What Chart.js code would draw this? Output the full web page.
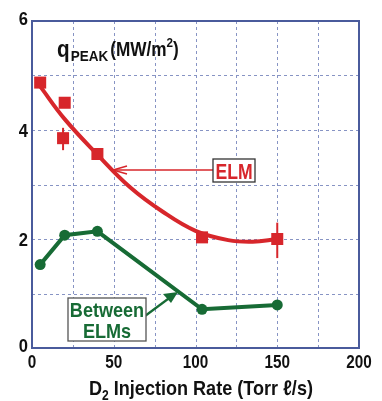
<!DOCTYPE html>
<html>
<head>
<meta charset="utf-8">
<script src="https://cdn.jsdelivr.net/npm/chart.js@4/dist/chart.umd.min.js"></script>
<style>
  html, body { margin: 0; padding: 0; background: #fff; }
  #wrap { position: relative; width: 382px; height: 401px; }
</style>
</head>
<body>
<div id="wrap"><canvas id="chart-area" width="382" height="401"></canvas></div>
<script>
// data
const elmX = [5, 20, 19, 40, 104, 150];
const elmY = [4.87, 4.5, 3.85, 3.56, 2.03, 2.0];
const elmErrLo = [null, null, 3.63, null, null, 1.65];
const elmErrHi = [null, null, 4.04, null, null, 2.3];

const fitX = [5, 20, 40, 60, 80, 100, 120, 135, 150];
const fitY = [4.8, 4.2, 3.55, 2.95, 2.5, 2.15, 1.98, 1.95, 2.0];

const betweenX = [5, 20, 40, 104, 150];
const betweenY = [1.53, 2.07, 2.14, 0.71, 0.79];

const xTicks = [0, 50, 100, 150, 200];
const yTicks = [0, 2, 4, 6];

const RED = '#d7262b';
const GREEN = '#176b35';
const GRID = '#8794c4';
const FRAME = '#4a5b9c';
const FONT = '"Liberation Sans", Arial, sans-serif';

function pts(xs, ys) { return xs.map((x, i) => ({x: x, y: ys[i]})); }

// bold text squeezed horizontally to look like a condensed face
function txt(ctx, s, x, y, size, align, color, sx) {
  sx = sx || 0.86;
  ctx.save();
  ctx.font = 'bold ' + size + 'px ' + FONT;
  ctx.fillStyle = color || '#111';
  ctx.textBaseline = 'alphabetic';
  const w = ctx.measureText(s).width * sx;
  let left = x;
  if (align === 'center') left = x - w / 2;
  else if (align === 'right') left = x - w;
  ctx.translate(left, y);
  ctx.scale(sx, 1);
  ctx.fillText(s, 0, 0);
  ctx.restore();
  return w;
}
function txtW(ctx, s, size, sx) {
  ctx.save();
  ctx.font = 'bold ' + size + 'px ' + FONT;
  const w = ctx.measureText(s).width * (sx || 0.86);
  ctx.restore();
  return w;
}

// dashed grid from the scale ticks
const grid = {
  id: 'grid',
  beforeDatasetsDraw(c) {
    const ctx = c.ctx, a = c.chartArea;
    ctx.save();
    ctx.strokeStyle = GRID;
    ctx.lineWidth = 1;
    ctx.setLineDash([3, 3]);
    c.scales.x.ticks.forEach(t => {
      const px = Math.round(c.scales.x.getPixelForValue(t.value)) + 0.5;
      ctx.beginPath(); ctx.moveTo(px, a.top); ctx.lineTo(px, a.bottom); ctx.stroke();
    });
    c.scales.y.ticks.forEach(t => {
      const py = Math.round(c.scales.y.getPixelForValue(t.value)) + 0.5;
      ctx.beginPath(); ctx.moveTo(a.left, py); ctx.lineTo(a.right, py); ctx.stroke();
    });
    ctx.restore();
  }
};

const extras = {
  id: 'extras',
  afterDatasetsDraw(c) {
    const ctx = c.ctx, a = c.chartArea;
    const xs = c.scales.x, ys = c.scales.y;
    ctx.save();
    ctx.strokeStyle = FRAME;
    ctx.lineWidth = 2;
    ctx.strokeRect(a.left, a.top, a.right - a.left, a.bottom - a.top);

    // tick labels
    xTicks.forEach(v => txt(ctx, String(v), xs.getPixelForValue(v), a.bottom + 20, 18, 'center', '#111', 0.85));
    yTicks.forEach(v => {
      const py = ys.getPixelForValue(v) + 6.5 - (v === 6 ? 3 : 0) - (v === 0 ? 3 : 0);
      txt(ctx, String(v), a.left - 4, py, 18, 'right', '#111', 0.92);
    });

    // error bars
    ctx.strokeStyle = RED;
    ctx.lineWidth = 2;
    elmX.forEach((x, i) => {
      if (elmErrLo[i] == null) return;
      const px = xs.getPixelForValue(x);
      ctx.beginPath();
      ctx.moveTo(px, ys.getPixelForValue(elmErrLo[i]));
      ctx.lineTo(px, ys.getPixelForValue(elmErrHi[i]));
      ctx.stroke();
    });

    // q_PEAK label
    let tx = 57, ty = 57;
    tx += txt(ctx, 'q', tx, ty, 23, 'left', '#111', 0.9) + 1;
    tx += txt(ctx, 'PEAK', tx, ty + 4, 15, 'left', '#111', 0.9) + 2;
    tx += txt(ctx, '(MW/m', tx, ty - 1, 20, 'left', '#111', 0.86);
    tx += txt(ctx, '2', tx, ty - 10, 13, 'left', '#111', 0.9);
    txt(ctx, ')', tx, ty - 1, 20, 'left', '#111', 0.86);

    // ELM box + arrow
    ctx.strokeStyle = RED;
    ctx.lineWidth = 1.5;
    const ay = 170;
    ctx.beginPath();
    ctx.moveTo(213, ay); ctx.lineTo(114, ay); ctx.stroke();
    ctx.beginPath();
    ctx.moveTo(127, ay - 4); ctx.lineTo(113, ay); ctx.lineTo(127, ay + 4);
    ctx.stroke();
    ctx.fillStyle = '#fff';
    ctx.fillRect(213, 159, 42, 23);
    ctx.strokeStyle = '#333';
    ctx.lineWidth = 1.3;
    ctx.strokeRect(213, 159, 42, 23);
    txt(ctx, 'ELM', 234, 178.5, 22, 'center', RED, 0.8);

    // Between ELMs box + arrow
    ctx.strokeStyle = GREEN;
    ctx.fillStyle = GREEN;
    ctx.lineWidth = 2.2;
    ctx.beginPath();
    ctx.moveTo(145, 316); ctx.lineTo(172, 296); ctx.stroke();
    ctx.beginPath();
    ctx.moveTo(178, 292); ctx.lineTo(163, 294); ctx.lineTo(171, 303); ctx.closePath();
    ctx.fill();
    ctx.fillStyle = '#fff';
    ctx.fillRect(68, 298, 78, 43);
    ctx.strokeStyle = '#555';
    ctx.lineWidth = 1.3;
    ctx.strokeRect(68, 298, 78, 43);
    txt(ctx, 'Between', 107, 317, 21, 'center', GREEN, 0.86);
    txt(ctx, 'ELMs', 107, 338, 21, 'center', GREEN, 0.86);

    // x axis title with subscript
    const t1 = 'D', t2 = '2', t3 = ' Injection Rate (Torr \u2113/s)';
    const w1 = txtW(ctx, t1, 21, 0.86), w2 = txtW(ctx, t2, 14, 0.86), w3 = txtW(ctx, t3, 21, 0.86);
    const sx = 201 - (w1 + w2 + w3) / 2, sy = 395;
    txt(ctx, t1, sx, sy, 21, 'left', '#111', 0.86);
    txt(ctx, t2, sx + w1, sy + 5, 14, 'left', '#111', 0.86);
    txt(ctx, t3, sx + w1 + w2, sy, 21, 'left', '#111', 0.86);
    ctx.restore();
  }
};

new Chart(document.getElementById('chart-area'), {
  type: 'scatter',
  data: {
    datasets: [
      {
        label: 'fit',
        data: pts(fitX, fitY),
        showLine: true,
        tension: 0.4,
        borderColor: RED,
        borderWidth: 4,
        pointRadius: 0
      },
      {
        label: 'ELM',
        data: pts(elmX, elmY),
        showLine: false,
        pointStyle: 'rect',
        pointRadius: 8.5,
        backgroundColor: RED,
        borderColor: RED,
        borderWidth: 0
      },
      {
        label: 'Between ELMs',
        data: pts(betweenX, betweenY),
        showLine: true,
        tension: 0,
        borderColor: GREEN,
        borderWidth: 4,
        pointRadius: 5.5,
        backgroundColor: GREEN,
        pointBorderColor: GREEN,
        pointBorderWidth: 0
      }
    ]
  },
  plugins: [grid, extras],
  options: {
    responsive: false,
    animation: false,
    layout: { padding: { left: 32, top: 21, right: 23, bottom: 53 } },
    plugins: { legend: { display: false }, tooltip: { enabled: false } },
    scales: {
      x: {
        type: 'linear', min: 0, max: 200,
        grid: { display: false, drawTicks: false },
        border: { display: false },
        ticks: { stepSize: 25, display: false }
      },
      y: {
        type: 'linear', min: 0, max: 6,
        grid: { display: false, drawTicks: false },
        border: { display: false },
        ticks: { stepSize: 1, display: false }
      }
    }
  }
});
</script>
</body>
</html>
